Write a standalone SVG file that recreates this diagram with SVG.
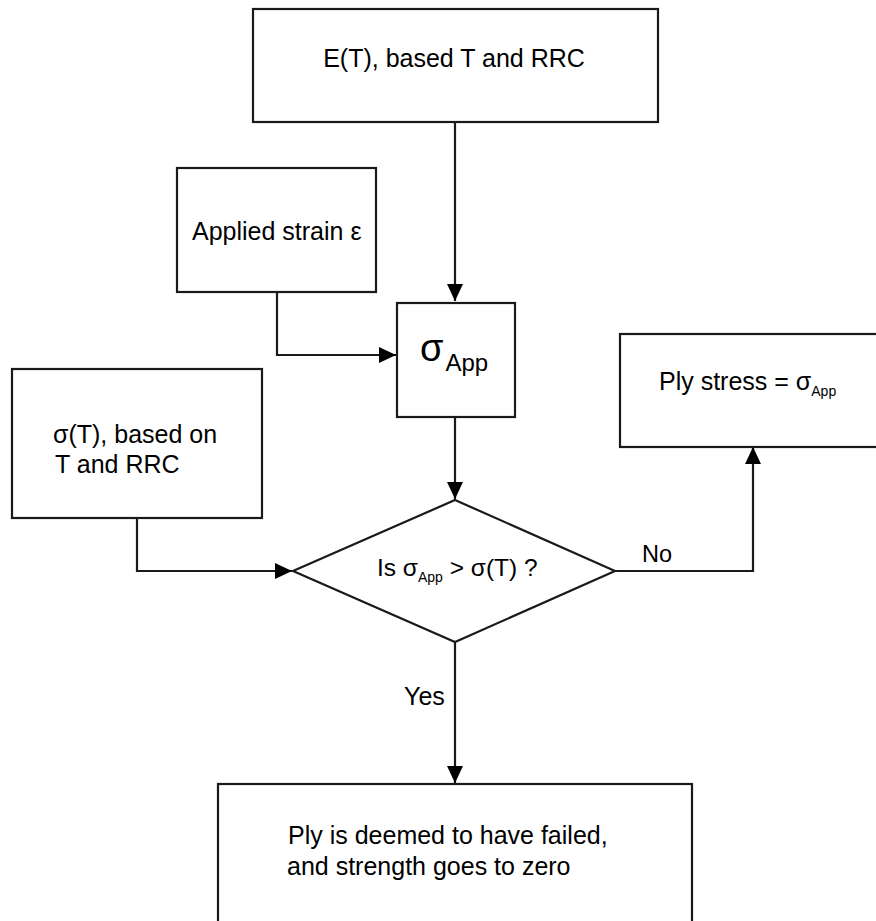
<svg xmlns="http://www.w3.org/2000/svg" width="876" height="921" viewBox="0 0 876 921">
<style>
.box{fill:#fff;stroke:#1a1a1a;stroke-width:2.2}
.ln{fill:none;stroke:#1a1a1a;stroke-width:2.2}
text{font-family:"Liberation Sans",Arial,sans-serif;fill:#000;font-size:25px}
.sub{font-size:14px}
</style>
<defs>
<marker id="ah" markerWidth="17" markerHeight="16" refX="17" refY="8" orient="auto" markerUnits="userSpaceOnUse">
<path d="M0,0 L17,8 L0,16 Z" fill="#000"/>
</marker>
</defs>
<rect width="876" height="921" fill="#fff"/>
<g id="connectors">
<path class="ln" d="M455,122 V301" marker-end="url(#ah)"/>
<path class="ln" d="M277,292 V355 H396" marker-end="url(#ah)"/>
<path class="ln" d="M455,417 V499" marker-end="url(#ah)"/>
<path class="ln" d="M137,518 V571 H292" marker-end="url(#ah)"/>
<path class="ln" d="M615,571 H753 V447" marker-end="url(#ah)"/>
<path class="ln" d="M455,642 V783" marker-end="url(#ah)"/>
<text x="642" y="562" style="font-size:23.5px">No</text>
<text x="404" y="705">Yes</text>
</g>
<g id="n_E">
<rect class="box" x="253" y="9" width="405" height="113"/>
<text x="454" y="67" text-anchor="middle">E(T), based T and RRC</text>
</g>
<g id="n_strain">
<rect class="box" x="177" y="168" width="199" height="124"/>
<text x="192" y="240">Applied strain ε</text>
</g>
<g id="n_sapp">
<rect class="box" x="397" y="303" width="118" height="114"/>
<text x="420" y="361" style="font-size:38px">σ<tspan style="font-size:24px" dx="2" dy="10">App</tspan></text>
</g>
<g id="n_ply">
<rect class="box" x="620" y="334" width="270" height="113"/>
<text x="659" y="390">Ply stress = σ<tspan class="sub" dy="6">App</tspan></text>
</g>
<g id="n_sT">
<rect class="box" x="12" y="369" width="250" height="149"/>
<text x="53" y="443">σ(T), based on</text>
<text x="55" y="473">T and RRC</text>
</g>
<g id="n_dec">
<polygon class="box" points="455,500 615,571 455,642 293,571"/>
<text x="377" y="576" style="font-size:24.5px">Is σ<tspan class="sub" dy="6">App</tspan><tspan dy="-6"> &gt; σ(T) ?</tspan></text>
</g>
<g id="n_fail">
<rect class="box" x="218" y="784" width="474" height="160"/>
<text x="288" y="844">Ply is deemed to have failed,</text>
<text x="287" y="875">and strength goes to zero</text>
</g>
</svg>
